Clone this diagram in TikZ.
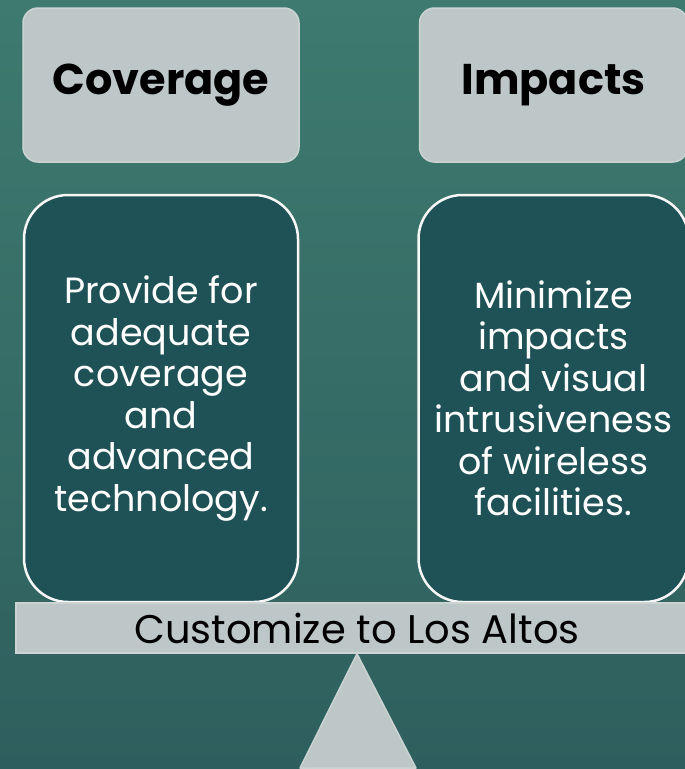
\documentclass[tikz,border=0pt]{standalone}
\usepackage{fontspec}
\setmainfont{Poppins}
\usepackage{xcolor}
\usetikzlibrary{positioning}

\definecolor{bgtop}{HTML}{3E7A6F}
\definecolor{bgbot}{HTML}{2E5F5E}
\definecolor{panel}{HTML}{BDC7C8}
\definecolor{panelrim}{HTML}{CBD3D3}
\definecolor{deep}{HTML}{1F5256}

\begin{document}
\begin{tikzpicture}[
  x=1pt, y=-1pt,
  node distance=31pt and 119pt,
  head/.style={rectangle, rounded corners=15pt, fill=panel, draw=panelrim, line width=1.5pt,
    minimum height=154pt, font=\bfseries\fontsize{43}{50}\selectfont, text=black},
  body/.style={rectangle, rounded corners=44pt, fill=deep, draw=white!94!gray, line width=2.5pt,
    minimum height=407pt, align=center, text=white, font=\fontsize{36.5}{41.5}\selectfont},
  beam/.style={rectangle, fill=panel, draw=panelrim, line width=1.5pt,
    minimum width=682pt, minimum height=50pt, inner sep=0pt, font=\fontsize{40}{44}\selectfont, text=black}
]
% background
\shade[top color=bgtop, bottom color=bgbot] (0,0) rectangle (685,769);
\useasboundingbox (0,0) rectangle (685,769);
\clip (0,0) rectangle (685,769);

\node[head, minimum width=276pt] (coverage) at (161,85) {Coverage};
\node[head, minimum width=268pt, right=119pt of coverage.east, anchor=west] (impacts) {Impacts};

\node[body, minimum width=274pt, below=31pt of coverage] (coverdesc)
  {Provide for\\adequate\\coverage\\and\\advanced\\technology.};
\node[body, minimum width=270pt, below=31pt of impacts] (impactdesc)
  {Minimize\\impacts\\and visual\\intrusiveness\\of wireless\\facilities.};

% balance
\node[beam] (scale) at (357,628) {Customize to Los Altos};
\coordinate (pivot) at (scale.south);
\coordinate (footl) at (300,768);
\coordinate (footr) at (416,768);
\draw[fill=panel, draw=panelrim, line width=1.5pt, line join=round] (pivot) -- (footr) -- (footl) -- cycle;

\end{tikzpicture}
\end{document}
